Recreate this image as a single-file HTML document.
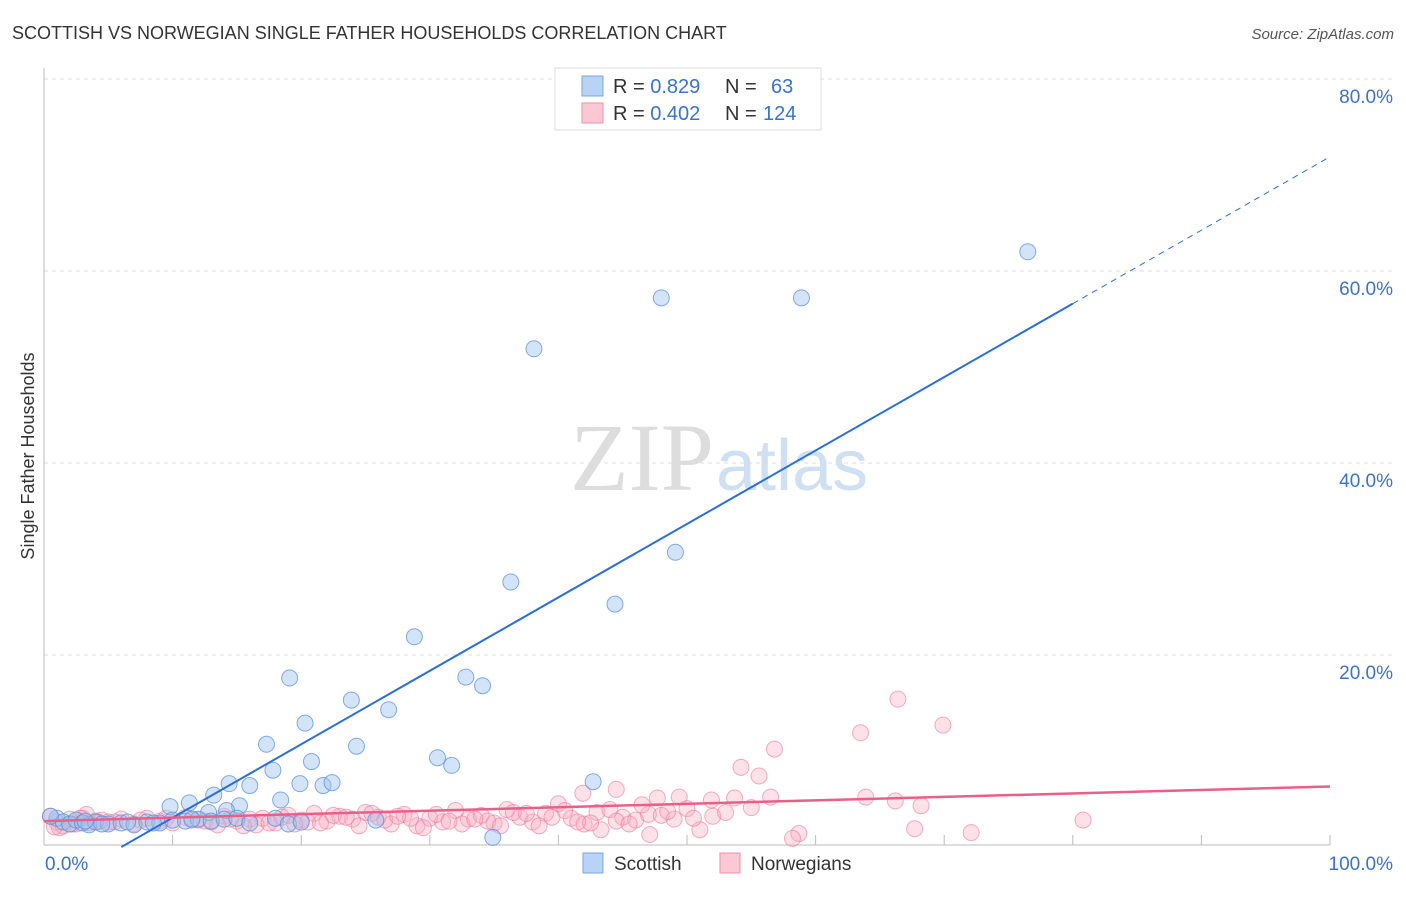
<!DOCTYPE html>
<html><head><meta charset="utf-8"><style>
body{margin:0;background:#fff;font-family:"Liberation Sans",sans-serif}
</style></head><body>
<svg id="c" width="1406" height="892" xmlns="http://www.w3.org/2000/svg">
<text x="12" y="39" font-size="18" fill="#333">SCOTTISH VS NORWEGIAN SINGLE FATHER HOUSEHOLDS CORRELATION CHART</text>
<text x="1394" y="39" font-size="15" fill="#555" font-style="italic" text-anchor="end">Source: ZipAtlas.com</text>
<text x="714" y="490" font-size="96" fill="#ddd" font-family="Liberation Serif,serif" text-anchor="end">ZIP</text>
<text x="716" y="490" font-size="72" fill="#cfe0f3" text-anchor="start">atlas</text>
<text transform="translate(34,456) rotate(-90)" font-size="18" fill="#333" text-anchor="middle">Single Father Households</text>
<g id="grid"></g><g id="pts"></g><g id="lines"></g>
<g>
<rect x="555" y="68" width="266" height="62" fill="#fff" stroke="#ddd"/>
<rect x="582" y="76" width="21" height="20" fill="#b8d3f5" stroke="#7aa7e0"/>
<rect x="582" y="103" width="21" height="20" fill="#fcc8d6" stroke="#f08fab"/>
<text x="613" y="93" font-size="20" fill="#333">R = <tspan fill="#3a72cc">0.829</tspan><tspan x="725">N =</tspan><tspan x="771" fill="#3a72cc">63</tspan></text>
<text x="613" y="120" font-size="20" fill="#333">R = <tspan fill="#3a72cc">0.402</tspan><tspan x="725">N =</tspan><tspan x="763" fill="#3a72cc">124</tspan></text>
</g>
<g>
<rect x="583" y="853" width="20" height="20" fill="#b8d3f5" stroke="#7aa7e0"/>
<text x="614" y="870" font-size="19" fill="#333">Scottish</text>
<rect x="720" y="853" width="20" height="20" fill="#fcc8d6" stroke="#f08fab"/>
<text x="751" y="870" font-size="19" fill="#333">Norwegians</text>
</g>
</svg>
<script>
const yTicks=[20,40,60,80];
const yTickLabels=["20.0%","40.0%","60.0%","80.0%"];
const xTickLabels=["0.0%","100.0%"];
const blueX=[76.5,48.0,58.9,38.1,49.1,36.3,44.4,28.8,19.1,32.8,34.1,23.9,26.8,20.3,17.3,24.3,20.8,30.6,31.7,17.8,14.4,16.0,19.9,21.7,22.4,42.7,13.2,18.4,11.3,9.8,15.2,14.2,12.8,34.9,25.8,1,1.5,2,2.5,3,3.5,4,5,6,7,8,9,10,11,12,13,14,15,16,18,19,20,0.5,3.2,4.5,6.5,8.5,11.5];
const blueY=[62.0,57.2,57.2,51.9,30.7,27.6,25.3,21.9,17.6,17.7,16.8,15.3,14.3,12.9,10.7,10.5,8.9,9.3,8.5,8.0,6.6,6.4,6.6,6.4,6.7,6.8,5.4,4.9,4.6,4.2,4.3,3.8,3.6,1.0,2.8,3.0,2.6,2.4,2.8,2.5,2.3,2.6,2.4,2.5,2.3,2.6,2.5,2.8,2.7,2.9,2.7,2.9,3.0,2.5,3.0,2.4,2.6,3.2,2.7,2.4,2.6,2.5,2.9];
const pinkX=[66.4,69.9,63.5,56.8,54.2,55.6,41.9,44.5,47.7,49.4,51.9,53.7,56.5,63.9,66.2,68.2,80.8,72.1,67.7,58.7,58.2,51.0,47.1,43.3,
0.5,1,1.5,2,2.5,3,3.5,4,4.5,5,6,7,8,9,10,11,12,13,14,15,16,17,18,19,20,21,22,23,24,25,26,27,28,29,30,31,32,33,34,35,36,37,38,39,40,41,42,43,44,45,46,47,48,49,50,52,53,55,1.2,2.2,3.3,5.5,7.5,9.5,12.5,14.5,16.5,18.5,20.5,22.5,24.5,26.5,28.5,30.5,32.5,34.5,36.5,38.5,40.5,42.5,44.5,46.5,48.5,25.5,27.5,33.5,37.5,39.5,41.5,45.5,50.5,35.5,23.5,21.5,29.5,31.5,19.5,17.5,15.5,13.5,11.5,0.8,2.8,4.2];
const pinkY=[15.4,12.7,11.9,10.2,8.3,7.4,5.6,6.0,5.1,5.2,4.9,5.1,5.2,5.2,4.8,4.3,2.8,1.5,1.9,1.4,0.9,1.8,1.3,1.8,
3.2,2.6,2.2,2.9,2.4,3.0,2.5,2.7,2.8,2.6,2.9,2.4,3.0,2.7,2.5,3.1,2.8,2.6,3.2,2.7,2.9,3.0,2.5,3.3,2.8,3.5,2.7,3.2,2.9,3.6,3.1,2.4,3.4,2.2,3.0,2.6,3.8,2.9,3.3,2.5,3.9,3.1,2.6,3.5,4.5,3.0,2.4,3.6,3.9,3.1,2.8,3.4,3.3,2.9,4.0,3.2,3.6,4.1,2.0,2.4,3.4,2.6,2.8,3.0,2.7,2.9,2.3,3.1,2.6,3.3,2.2,2.8,3.0,3.4,2.4,2.7,3.6,2.2,3.8,2.5,2.7,4.4,3.7,3.5,3.2,2.9,3.5,3.1,2.6,2.4,3.0,2.2,3.1,2.5,2.0,2.7,2.4,2.5,2.2,2.3,2.8,2.1,3.0,2.6];
const blueTrend=[-4.6,0.765];
const pinkTrend=[2.7,0.036];
const X=v=>44+12.86*v, Y=v=>847-9.6*v;
const NS='http://www.w3.org/2000/svg';
function mk(t,a,p){const e=document.createElementNS(NS,t);for(const k in a)e.setAttribute(k,a[k]);p.appendChild(e);return e;}
const grid=document.getElementById('grid');
yTicks.forEach((t,i)=>{
 const l=mk('line',{x1:44,x2:1394,y1:Y(t),y2:Y(t),stroke:'#ddd','stroke-dasharray':'4,4'},grid);
 
 
 const tx=mk('text',{x:1393,y:Y(t)+24,'font-size':19,fill:'#3a72cc','text-anchor':'end'},grid);tx.textContent=yTickLabels[i];
 
 
});
mk('line',{x1:44,x2:44,y1:68,y2:845,stroke:'#bbb'},grid);
mk('line',{x1:44,x2:1330,y1:845,y2:845,stroke:'#bbb'},grid);
for(let i=1;i<=10;i++)mk('line',{x1:X(i*10),x2:X(i*10),y1:835,y2:845,stroke:'#bbb'},grid);
const xl=mk('text',{x:45,y:870,'font-size':19,fill:'#3a72cc'},grid);xl.textContent=xTickLabels[0];


const xr=mk('text',{x:1393,y:870,'font-size':19,fill:'#3a72cc','text-anchor':'end'},grid);xr.textContent=xTickLabels[1];


const pts=document.getElementById('pts');
const nP=Math.min(pinkX.length,pinkY.length);
for(let i=0;i<nP;i++){const c=mk('circle',{cx:X(pinkX[i]),cy:Y(pinkY[i]),r:8,fill:'rgba(248,170,192,0.35)',stroke:'rgba(236,120,155,0.6)','stroke-width':1},pts);
 
 }
blueX.forEach((x,i)=>{const c=mk('circle',{cx:X(x),cy:Y(blueY[i]),r:8,fill:'rgba(160,196,240,0.45)',stroke:'rgba(80,140,215,0.7)','stroke-width':1},pts);
 
 });
const L=document.getElementById('lines');
const x0=-blueTrend[0]/blueTrend[1];
const b1=mk('line',{x1:X(x0),y1:Y(0),x2:X(80),y2:Y(blueTrend[0]+blueTrend[1]*80),stroke:'#2a6fd6','stroke-width':2},L);


const b2=mk('line',{x1:X(80),y1:Y(blueTrend[0]+blueTrend[1]*80),x2:X(100),y2:Y(blueTrend[0]+blueTrend[1]*100),stroke:'#2a6fd6','stroke-width':1,'stroke-dasharray':'6,5'},L);


const p1=mk('line',{x1:X(0),y1:Y(pinkTrend[0]),x2:X(100),y2:Y(pinkTrend[0]+pinkTrend[1]*100),stroke:'#e8608a','stroke-width':2.5},L);


</script>
</body></html>
